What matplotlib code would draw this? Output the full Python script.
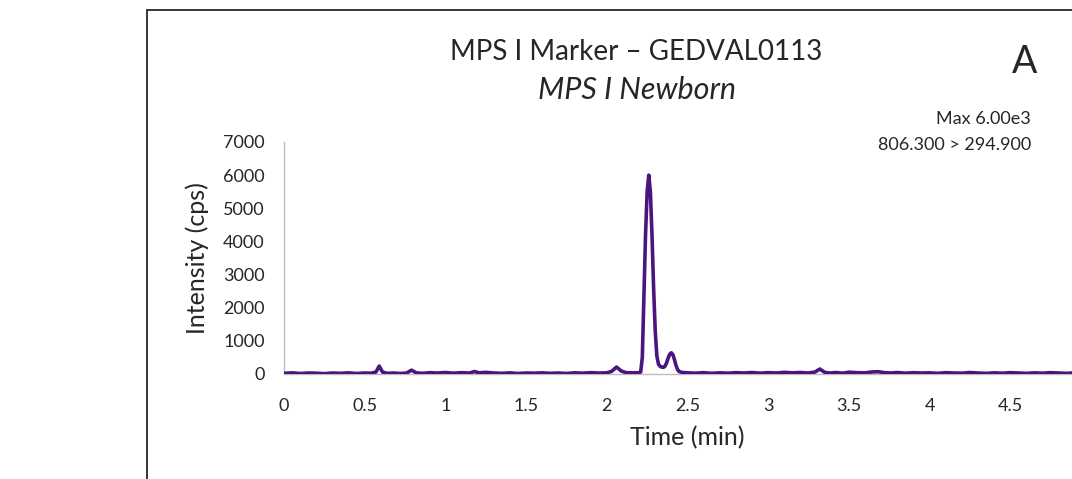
import matplotlib
matplotlib.use('Agg')
import matplotlib.pyplot as plt
from matplotlib.patches import Rectangle
from matplotlib.ticker import FuncFormatter

plt.rcParams['font.family'] = ['Lato', 'DejaVu Sans']

# chromatogram (time in min, intensity in cps)
time_min = [
    0.00, 0.05, 0.10, 0.15, 0.20, 0.25, 0.30, 0.35, 0.40, 0.45, 0.50, 0.54,
    0.57, 0.59, 0.61, 0.64, 0.68, 0.72, 0.76, 0.79, 0.82, 0.86, 0.90, 0.95,
    1.00, 1.05, 1.10, 1.15, 1.18, 1.21, 1.25, 1.30, 1.35, 1.40, 1.45, 1.50,
    1.55, 1.60, 1.65, 1.70, 1.75, 1.80, 1.85, 1.90, 1.95, 2.00, 2.03, 2.06,
    2.09, 2.12, 2.16, 2.20, 2.21, 2.22, 2.23, 2.24, 2.25, 2.26, 2.27, 2.28,
    2.29, 2.30, 2.31, 2.32, 2.33, 2.34, 2.35, 2.36, 2.37, 2.38, 2.39, 2.40,
    2.41, 2.42, 2.43, 2.44, 2.45, 2.47, 2.50, 2.55, 2.60, 2.65, 2.70, 2.75,
    2.80, 2.85, 2.90, 2.95, 3.00, 3.05, 3.10, 3.15, 3.20, 3.25, 3.29, 3.32,
    3.35, 3.38, 3.42, 3.46, 3.50, 3.55, 3.60, 3.64, 3.68, 3.72, 3.76, 3.80,
    3.85, 3.90, 3.95, 4.00, 4.05, 4.10, 4.15, 4.20, 4.25, 4.30, 4.35, 4.40,
    4.45, 4.50, 4.55, 4.60, 4.65, 4.70, 4.75, 4.80, 4.85, 4.90, 4.95, 5.00,
]
intensity_cps = [
    20, 35, 15, 30, 25, 10, 30, 20, 35, 15, 30, 25,
    60, 240, 60, 20, 30, 15, 30, 115, 35, 20, 40, 30,
    45, 25, 40, 30, 75, 35, 50, 30, 20, 35, 15, 30,
    25, 35, 20, 30, 15, 35, 25, 40, 30, 35, 80, 210,
    90, 40, 35, 40, 60, 500, 2300, 4200, 5500, 6000, 5500, 4200,
    2600, 1300, 550, 300, 230, 210, 200, 230, 330, 480, 600, 640,
    580, 420, 240, 120, 70, 45, 35, 25, 40, 20, 35, 25,
    40, 30, 45, 25, 40, 30, 50, 35, 45, 30, 60, 150,
    50, 30, 45, 25, 55, 40, 35, 60, 70, 40, 30, 45,
    25, 40, 30, 35, 20, 40, 30, 25, 45, 30, 20, 35,
    25, 40, 30, 20, 35, 25, 40, 30, 20, 35, 25, 30,
]

# the "5" label sits past the cropped right edge, so only 0..4.5 are shown
x_ticks = [0, 0.5, 1, 1.5, 2, 2.5, 3, 3.5, 4, 4.5]
y_ticks = [0, 1000, 2000, 3000, 4000, 5000, 6000, 7000]

W, H = 1072, 479
fig = plt.figure(figsize=(W / 100, H / 100), dpi=100)

# plot area runs past the right edge of the picture, as in the crop
ax = fig.add_axes([284 / W, (H - 374) / H, (1091 - 284) / W, (374 - 142) / H])
ax.plot(time_min, intensity_cps, color='#4b1580', lw=2.6, solid_joinstyle='round', zorder=3)

ax.set_xlim(0, 5)
ax.set_ylim(0, 7000)
ax.set_xticks(x_ticks)
ax.set_yticks(y_ticks)
ax.xaxis.set_major_formatter(FuncFormatter(lambda v, p: f'{v:g}'))
ax.tick_params(length=0, labelsize=13, colors='#262626')
ax.tick_params(axis='x', pad=17)
ax.tick_params(axis='y', pad=14)
for s in ['top', 'right']:
    ax.spines[s].set_visible(False)
for s in ['left', 'bottom']:
    ax.spines[s].set_color('#c0bcbc')
    ax.spines[s].set_linewidth(1.0)

ax.set_xlabel('Time (min)', fontsize=18, color='#262626', labelpad=9)
ax.set_ylabel('Intensity (cps)', fontsize=18, color='#262626', labelpad=10)

# outer frame of the panel
fig.add_artist(Rectangle((147 / W, -0.1), 1.2, (H - 10) / H + 0.1,
                         transform=fig.transFigure, fill=False,
                         edgecolor='#262626', lw=1.3))

fig.text(636 / W, 1 - 52 / H, 'MPS I Marker – GEDVAL0113', ha='center', va='center',
         fontsize=20, color='#262626')
fig.text(637 / W, 1 - 90 / H, 'MPS I Newborn', ha='center', va='center',
         fontsize=22, style='italic', color='#262626')
fig.text(1025 / W, 1 - 62 / H, 'A', ha='center', va='center', fontsize=27, color='#262626')
fig.text(1031 / W, 1 - 119 / H, 'Max 6.00e3', ha='right', va='center', fontsize=13,
         color='#262626')
fig.text(1031 / W, 1 - 145 / H, '806.300 > 294.900', ha='right', va='center', fontsize=13,
         color='#262626')

fig.savefig('out.png', dpi=100)
